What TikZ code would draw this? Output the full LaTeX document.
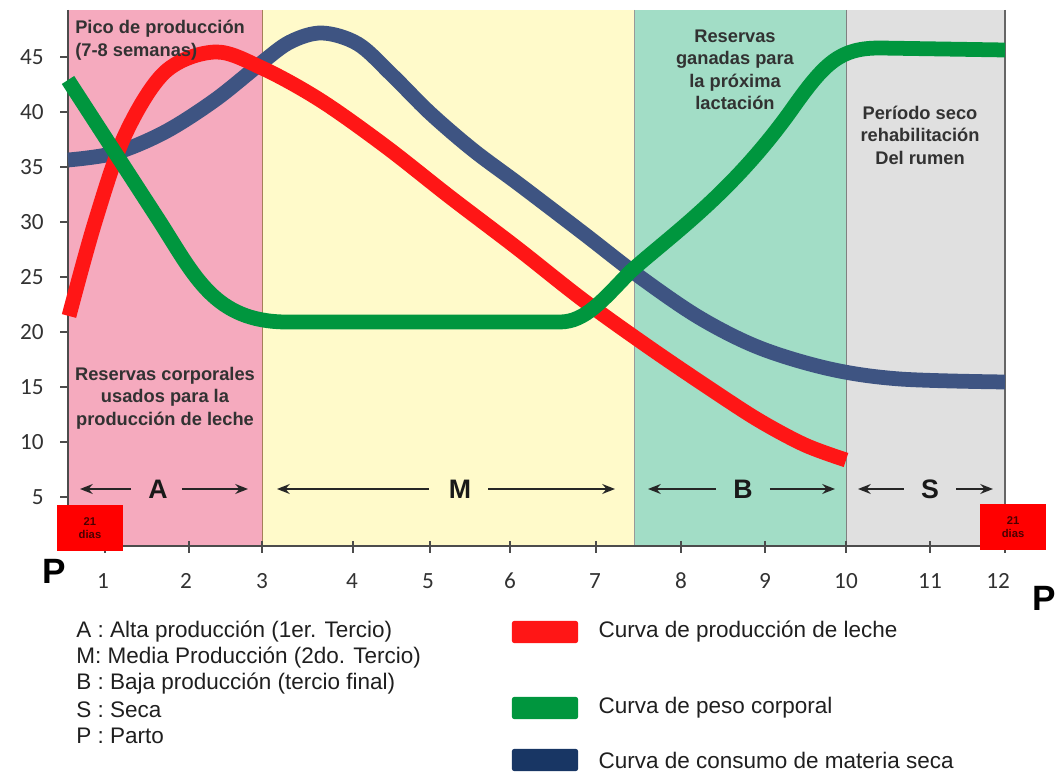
\documentclass[tikz,border=0pt]{standalone}
\usepackage{fontspec}
\setmainfont{Liberation Sans}
\newfontfamily\numfont{Carlito}
\usetikzlibrary{arrows.meta,positioning}
\definecolor{zonaA}{RGB}{245,170,190}
\definecolor{zonaM}{RGB}{255,250,202}
\definecolor{zonaB}{RGB}{162,221,198}
\definecolor{zonaS}{RGB}{224,224,224}
\definecolor{rojo}{RGB}{255,22,22}
\definecolor{verde}{RGB}{0,150,62}
\definecolor{azul}{RGB}{62,84,130}
\definecolor{azulley}{RGB}{24,54,100}
\definecolor{texto}{RGB}{50,50,50}
\tikzset{
  curva/.style={line width=10.5pt, smooth, tension=0.55, line join=round},
  nota/.style={font=\bfseries\fontsize{13}{16}\selectfont, text=texto, align=center, inner sep=0pt},
  fase/.style={font=\bfseries\fontsize{19}{20}\selectfont, text=black!90, inner sep=1pt},
  flecha/.style={-{Stealth[length=9pt,width=7pt]}, line width=1.4pt, black!85},
  numero/.style={font=\numfont\fontsize{16.5}{18}\selectfont, text=texto, inner sep=0pt},
  parto/.style={font=\bfseries\fontsize{25}{26}\selectfont, inner sep=0pt},
  diasbox/.style={fill=red, minimum width=1.65cm, minimum height=1.15cm, inner sep=0pt,
    align=center, font=\bfseries\fontsize{8}{9}\selectfont, text=red!30!black},
  leyenda/.style={font=\fontsize{16}{17}\selectfont, text=black!88, inner sep=0pt, anchor=west},
  muestra/.style={minimum width=1.65cm, minimum height=0.55cm, inner sep=0pt, rounded corners=1.5pt}
}
\begin{document}
\begin{tikzpicture}[x=0.025cm,y=-0.025cm]
\useasboundingbox (0,0) rectangle (1060,773);
%zones
\fill[zonaA] (68,10) rectangle (262,546);
\fill[zonaM] (262,10) rectangle (634,546);
\fill[zonaB] (634,10) rectangle (846,546);
\fill[zonaS] (846,10) rectangle (1005,546);
\draw[brown!60!gray, line width=0.6pt] (262,10) -- (262,546);
\draw[gray!80, line width=0.6pt] (634,10) -- (634,546);
\draw[gray, line width=0.6pt] (846,10) -- (846,546);
%axes
\draw[black!70, line width=1.2pt] (68,10) -- (68,546) -- (1005,546);
\draw[black!60, line width=1.6pt] (1005,10) -- (1005,546);
\foreach \v in {5,10,...,45}{
  \draw[black!70, line width=1pt] (60,{552-11*\v}) -- (68,{552-11*\v});
  \node[numero, anchor=east] (ylab\v) at (44,{552-11*\v}) {\v};
}
\foreach \lab/\px in {1/105,2/189,3/262,4/353,5/430,6/510,7/596,8/681,9/765,10/846,11/930,12/1005}{
  \draw[black!70, line width=1pt] (\px,541) -- (\px,553);
}
\foreach \lab/\px in {1/103,2/186,3/262,4/352,5/428,6/510,7/595,8/681,9/765,10/846,11/930,12/998}{
  \node[numero] (xlab\lab) at (\px,581) {\lab};
}
\node[parto] (partoI) at (54,571) {P};
\node[parto] (partoF) at (1044,598) {P};
%curves
\draw[curva, azul] plot coordinates {(68,160) (115,153) (165,132) (215,100) (260,64) (290,42) (322,33) (358,44) (392,75) (430,113) (473,150) (520,185) (583,233) (640,277) (700,318) (760,348) (830,369) (900,379) (1005,382)};
\draw[curva, rojo] plot coordinates {(69,316) (95,222) (125,135) (165,72) (215,52) (262,68) (320,100) (385,146) (450,197) (517,248) (583,300) (650,348) (715,392) (760,421) (805,445) (846,460)};
\draw[curva, verde] (68,80) -- (160,222) .. controls (195,277) and (215,321) .. (285,322) -- (560,322)
  .. controls (585,322) and (603,300) .. (630,272) .. controls (670,236) and (730,195) .. (790,112)
  .. controls (825,62) and (840,48) .. (880,48) -- (1005,50);
%notes
\node[nota, align=left, anchor=north west] (pico) at (75,20) {Pico de producción\\(7-8 semanas)};
\node[nota] (resA) at (165,398) {Reservas corporales\\usados para la\\producción de leche};
\node[nota] (resB) at (735,70) {Reservas\\ganadas para\\la próxima\\lactación};
\node[nota] (seco) at (920,135) {Período seco\\rehabilitación\\Del rumen};
%phases
\node[fase] (faseA) at (158,489) {A};
\node[fase] (faseM) at (460,489) {M};
\node[fase] (faseB) at (743,489) {B};
\node[fase] (faseS) at (930,489) {S};
\draw[flecha] ([xshift=-11pt]faseA.west) -- (80,489);
\draw[flecha] ([xshift=9pt]faseA.east) -- (248,489);
\draw[flecha] ([xshift=-13pt]faseM.west) -- (277,489);
\draw[flecha] ([xshift=11pt]faseM.east) -- (615,489);
\draw[flecha] ([xshift=-11pt]faseB.west) -- (648,489);
\draw[flecha] ([xshift=11pt]faseB.east) -- (835,489);
\draw[flecha] ([xshift=-11pt]faseS.west) -- (858,489);
\draw[flecha] ([xshift=11pt]faseS.east) -- (993,489);
\node[diasbox] (diasI) at (90,528) {21\\dias};
\node[diasbox] (diasF) at (1013,527) {21\\dias};
%legend
\node[leyenda] (leyA) at (76,632) {A : Alta producción (1er. Tercio)};
\node[leyenda] (leyM) at (76,658) {M: Media Producción (2do. Tercio)};
\node[leyenda] (leyB) at (76,684) {B : Baja producción (tercio final)};
\node[leyenda] (leyS) at (76,710) {S : Seca};
\node[leyenda] (leyP) at (76,736) {P : Parto};
\node[muestra, fill=rojo] (mRojo) at (545,632) {};
\node[muestra, fill=verde] (mVerde) at (545,708) {};
\node[muestra, fill=azulley] (mAzul) at (545,760) {};
\node[leyenda, right=0.5cm of mRojo] (lRojo) {Curva de producción de leche};
\node[leyenda, right=0.5cm of mVerde] (lVerde) {Curva de peso corporal};
\node[leyenda, right=0.5cm of mAzul] (lAzul) {Curva de consumo de materia seca};
\end{tikzpicture}
\end{document}
